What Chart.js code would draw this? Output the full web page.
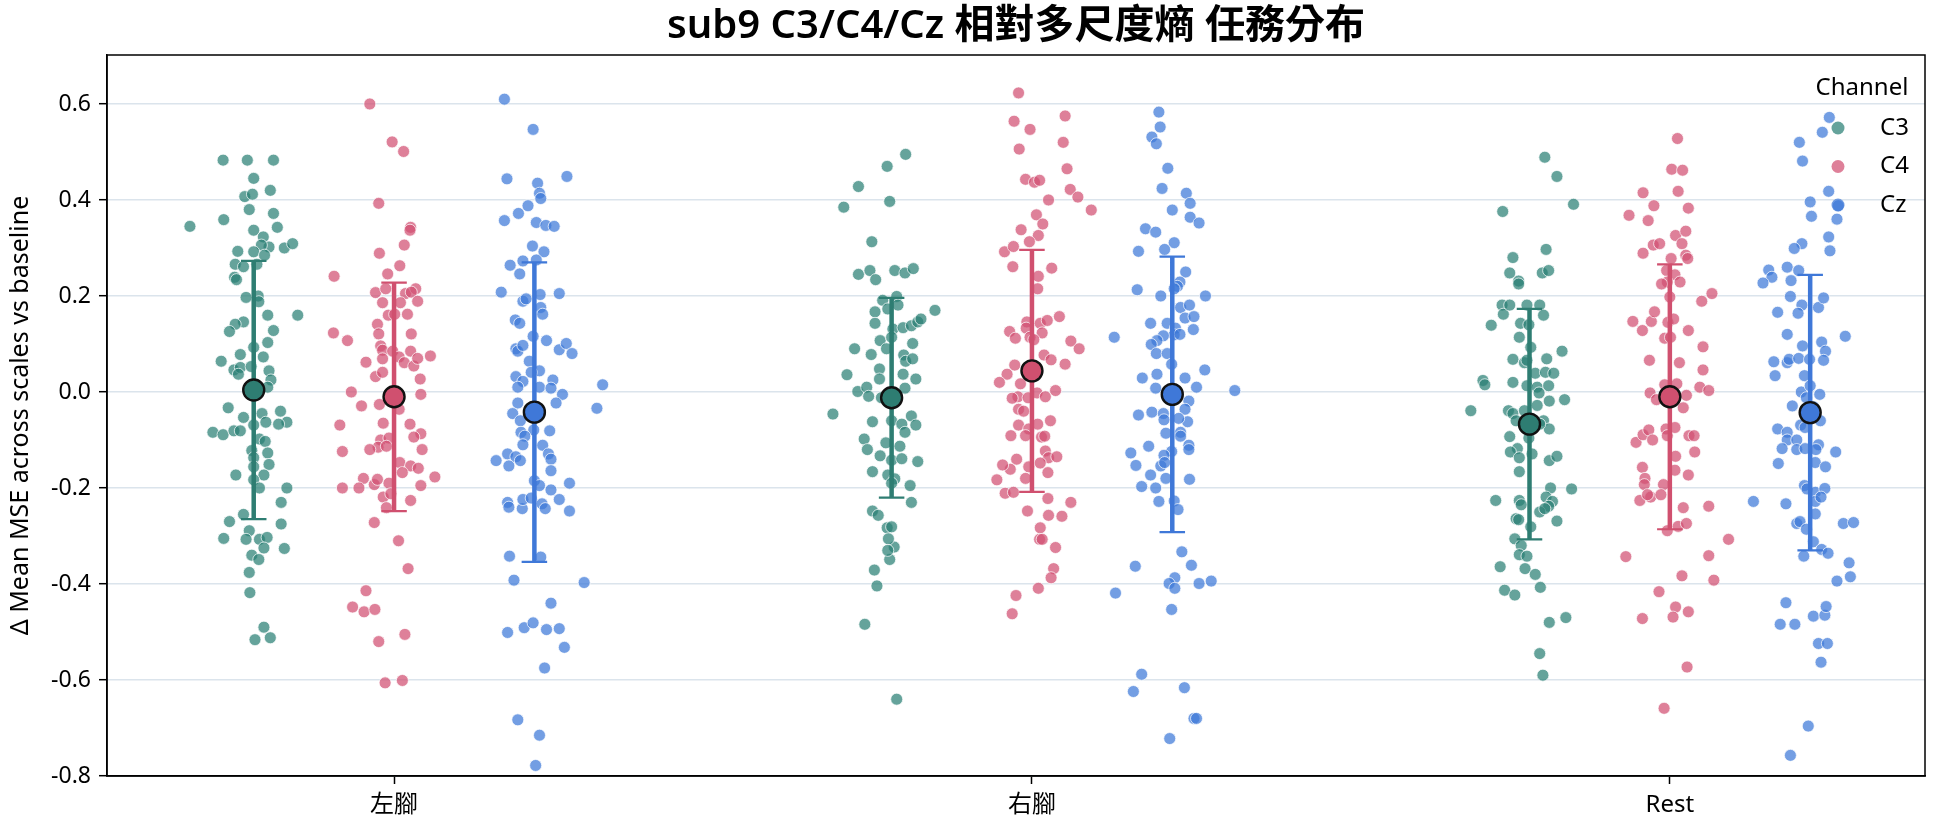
<!DOCTYPE html>
<html>
<head>
<meta charset="utf-8">
<script src="https://cdn.jsdelivr.net/npm/chart.js@4.4.0/dist/chart.umd.min.js"></script>
<style>
  html, body { margin: 0; padding: 0; background: #fff; }
  canvas { display: block; }
</style>
</head>
<body>
<canvas id="mse-chart" width="1944" height="827"></canvas>
<script>
const tasks = ["左腳", "右腳", "Rest"];
const channels = ["C3", "C4", "Cz"];
const yTicks = [-0.8, -0.6, -0.4, -0.2, 0.0, 0.2, 0.4, 0.6];

// per-trial values; *Jit = horizontal strip jitter (category units)
const c3Left = [0.483,0.483,0.483,0.445,0.407,0.412,0.420,0.380,0.359,0.345,0.372,0.343,0.337,0.323,0.302,0.306,0.300,0.309,0.293,0.292,0.285,0.266,0.261,0.266,0.239,0.234,0.197,0.200,0.188,0.160,0.160,0.146,0.141,0.126,0.128,0.103,0.093,0.078,0.073,0.064,0.046,0.051,0.037,0.053,0.044,0.025,0.010,-0.033,-0.040,-0.063,-0.067,-0.053,-0.045,-0.063,-0.084,-0.089,-0.081,-0.081,-0.069,-0.098,-0.103,-0.122,-0.137,-0.127,-0.151,-0.156,-0.173,-0.173,-0.183,-0.200,-0.200,-0.230,-0.255,-0.270,-0.275,-0.289,-0.305,-0.307,-0.307,-0.303,-0.325,-0.340,-0.349,-0.326,-0.376,-0.418,-0.490,-0.516,-0.512];
const c3LeftJit = [-0.048,-0.010,0.031,0.000,-0.014,-0.002,0.026,-0.007,-0.047,-0.100,0.031,0.037,0.000,0.015,0.024,0.012,0.048,0.061,-0.025,0.000,0.017,-0.029,-0.016,0.005,-0.030,-0.027,-0.012,0.007,0.008,0.022,0.069,-0.016,-0.029,-0.038,0.031,0.022,0.000,-0.021,0.015,-0.051,-0.031,-0.021,-0.024,-0.004,0.024,0.027,0.022,-0.040,0.042,0.052,0.039,-0.016,0.013,0.019,-0.064,-0.048,-0.031,-0.021,0.000,0.009,0.018,-0.003,0.000,0.022,0.024,0.000,-0.028,0.016,0.000,0.009,0.052,0.043,-0.016,-0.038,0.043,-0.007,-0.047,-0.012,0.009,0.021,0.016,-0.003,0.008,0.048,-0.007,-0.006,0.016,0.002,0.026];
const c4Left = [0.600,0.521,0.501,0.393,0.343,0.337,0.306,0.289,0.263,0.246,0.241,0.207,0.215,0.205,0.215,0.208,0.189,0.186,0.186,0.160,0.162,0.162,0.123,0.107,0.141,0.121,0.121,0.096,0.087,0.085,0.085,0.062,0.069,0.073,0.061,0.054,0.070,0.075,0.032,0.041,0.027,0.000,-0.005,-0.026,-0.029,-0.036,-0.069,-0.065,-0.067,-0.087,-0.094,-0.100,-0.096,-0.115,-0.113,-0.124,-0.120,-0.120,-0.147,-0.154,-0.168,-0.159,-0.177,-0.180,-0.200,-0.200,-0.193,-0.182,-0.190,-0.219,-0.212,-0.241,-0.195,-0.226,-0.272,-0.310,-0.368,-0.414,-0.448,-0.458,-0.453,-0.505,-0.520,-0.606,-0.601];
const c4LeftJit = [-0.038,-0.003,0.015,-0.024,0.026,0.025,0.016,-0.023,0.009,-0.010,-0.094,-0.029,-0.013,0.018,0.034,0.027,0.037,-0.018,0.010,-0.009,0.001,0.021,-0.095,-0.073,-0.026,-0.024,0.027,-0.021,-0.018,-0.002,0.026,-0.044,-0.018,0.008,0.016,0.031,0.037,0.057,-0.029,-0.018,0.041,-0.067,0.042,-0.023,-0.051,0.008,-0.085,-0.017,0.025,0.042,0.031,-0.021,-0.008,-0.025,-0.012,-0.081,-0.038,0.044,0.009,0.026,0.013,0.038,0.064,-0.048,-0.055,-0.081,-0.031,-0.026,-0.008,-0.017,-0.005,-0.012,0.042,0.026,-0.031,0.007,0.022,-0.044,-0.065,-0.047,-0.030,0.017,-0.024,-0.014,0.013];
const czLeft = [0.610,0.547,0.444,0.435,0.449,0.414,0.403,0.388,0.372,0.357,0.353,0.347,0.345,0.304,0.292,0.264,0.273,0.275,0.246,0.208,0.205,0.189,0.194,0.203,0.176,0.162,0.150,0.143,0.116,0.107,0.090,0.085,0.097,0.088,0.101,0.080,0.064,0.044,0.041,0.032,0.022,0.010,0.025,0.010,0.008,-0.005,-0.023,0.015,-0.034,-0.023,-0.045,-0.060,-0.079,-0.084,-0.092,-0.081,-0.110,-0.111,-0.129,-0.135,-0.143,-0.143,-0.154,-0.129,-0.140,-0.164,-0.185,-0.195,-0.204,-0.190,-0.230,-0.240,-0.243,-0.224,-0.221,-0.233,-0.243,-0.224,-0.248,-0.342,-0.344,-0.392,-0.397,-0.440,-0.501,-0.491,-0.481,-0.495,-0.493,-0.532,-0.575,-0.683,-0.715,-0.778];
const czLeftJit = [-0.047,-0.002,-0.043,0.005,0.051,0.008,0.010,-0.010,-0.025,-0.047,0.003,0.018,0.031,-0.003,0.015,-0.038,-0.018,0.003,-0.023,-0.052,0.039,-0.018,-0.013,0.009,0.010,0.013,-0.030,-0.023,-0.002,0.019,-0.029,-0.026,-0.018,0.039,0.050,0.059,-0.008,0.008,-0.005,-0.029,-0.018,-0.026,0.029,0.008,0.026,0.044,0.034,0.107,0.098,-0.026,-0.034,-0.022,-0.001,-0.021,-0.015,0.024,-0.018,0.013,-0.042,-0.029,-0.022,-0.060,-0.040,0.022,0.026,0.026,0.000,0.008,0.026,0.055,-0.042,-0.040,-0.019,-0.018,-0.005,0.012,0.017,0.039,0.055,-0.039,0.010,-0.032,0.078,0.026,-0.042,-0.016,-0.002,0.019,0.039,0.047,0.016,-0.026,0.008,0.002];

const c3Right = [0.495,0.470,0.428,0.385,0.397,0.313,0.245,0.253,0.234,0.253,0.248,0.257,0.199,0.191,0.173,0.181,0.167,0.143,0.131,0.134,0.138,0.146,0.152,0.170,0.107,0.090,0.114,0.101,0.090,0.078,0.077,0.064,0.069,0.048,0.027,0.036,0.037,0.027,0.001,0.010,-0.009,-0.012,0.008,-0.046,-0.062,-0.060,-0.067,-0.084,-0.050,-0.069,-0.098,-0.120,-0.106,-0.113,-0.133,-0.142,-0.139,-0.145,-0.166,-0.173,-0.181,-0.190,-0.195,-0.230,-0.248,-0.257,-0.283,-0.281,-0.323,-0.349,-0.306,-0.330,-0.371,-0.404,-0.484,-0.640];
const c3RightJit = [0.022,-0.007,-0.052,-0.075,-0.003,-0.031,-0.052,-0.034,-0.025,0.005,0.021,0.034,0.008,-0.014,-0.006,0.010,-0.026,-0.026,0.002,0.018,0.031,0.041,0.046,0.068,-0.018,-0.008,0.000,0.033,-0.058,-0.032,0.019,0.022,0.033,-0.019,-0.019,-0.070,0.018,0.038,-0.053,-0.039,-0.036,-0.016,0.021,-0.092,-0.030,0.000,0.016,0.021,0.031,0.038,-0.043,-0.038,-0.009,0.013,-0.018,0.000,0.016,0.041,-0.030,-0.006,0.005,0.000,0.029,0.031,-0.030,-0.021,-0.007,0.000,0.004,-0.003,-0.005,-0.006,-0.027,-0.023,-0.042,0.008];
const c4Right = [0.623,0.564,0.575,0.547,0.520,0.506,0.465,0.443,0.437,0.441,0.422,0.406,0.379,0.400,0.369,0.350,0.338,0.326,0.313,0.292,0.303,0.261,0.258,0.241,0.215,0.157,0.146,0.133,0.114,0.143,0.149,0.123,0.109,0.126,0.112,0.106,0.090,0.077,0.067,0.058,0.056,0.037,0.020,0.017,-0.010,-0.012,-0.002,-0.010,0.003,-0.013,-0.036,-0.040,-0.060,-0.069,-0.077,-0.067,-0.091,-0.091,-0.094,-0.092,-0.123,-0.137,-0.148,-0.135,-0.140,-0.161,-0.152,-0.156,-0.168,-0.183,-0.180,-0.211,-0.209,-0.222,-0.230,-0.248,-0.257,-0.259,-0.283,-0.307,-0.307,-0.324,-0.368,-0.387,-0.409,-0.424,-0.462];
const c4RightJit = [-0.021,-0.028,0.052,-0.003,0.049,-0.020,0.055,-0.010,0.004,0.012,0.060,0.072,0.093,0.026,0.007,0.017,-0.017,0.010,-0.004,-0.043,-0.029,-0.030,0.031,0.010,0.009,0.043,-0.008,-0.009,-0.003,0.013,0.024,0.016,0.003,-0.035,-0.026,0.061,0.074,0.019,0.030,0.052,-0.027,-0.039,-0.051,-0.018,-0.022,-0.006,0.008,0.021,0.037,-0.031,-0.021,-0.013,0.029,-0.021,-0.005,0.009,-0.033,-0.010,0.015,0.020,0.021,0.026,0.013,0.039,-0.024,-0.034,-0.046,-0.005,0.025,-0.055,-0.010,-0.042,-0.029,0.025,0.061,-0.007,0.026,0.047,0.013,0.012,0.016,0.037,0.034,0.030,0.010,-0.025,-0.031];
const czRight = [0.583,0.552,0.531,0.517,0.466,0.424,0.414,0.393,0.379,0.364,0.352,0.340,0.333,0.311,0.297,0.293,0.250,0.229,0.220,0.213,0.200,0.215,0.200,0.176,0.181,0.154,0.157,0.130,0.143,0.143,0.133,0.119,0.120,0.117,0.107,0.099,0.080,0.080,0.114,0.058,0.046,0.029,0.037,0.029,0.010,0.008,0.003,-0.019,-0.036,-0.062,-0.048,-0.042,-0.045,-0.058,-0.055,-0.086,-0.084,-0.092,-0.113,-0.111,-0.120,-0.127,-0.124,-0.132,-0.153,-0.154,-0.147,-0.173,-0.197,-0.200,-0.180,-0.182,-0.228,-0.227,-0.245,-0.333,-0.363,-0.361,-0.387,-0.399,-0.409,-0.399,-0.394,-0.419,-0.453,-0.588,-0.624,-0.616,-0.680,-0.680,-0.722];
const czRightJit = [-0.021,-0.019,-0.032,-0.025,-0.007,-0.016,0.022,0.028,0.000,0.028,0.042,-0.042,-0.026,0.003,-0.012,-0.053,0.021,0.012,0.008,-0.055,-0.018,0.003,0.052,0.013,0.027,0.020,0.034,0.033,-0.034,-0.008,0.005,0.003,0.012,-0.014,-0.024,-0.033,-0.025,-0.008,-0.091,-0.001,0.051,-0.047,-0.024,0.020,0.038,-0.026,0.098,0.026,0.020,0.024,-0.053,-0.032,-0.014,-0.013,0.010,-0.010,0.013,0.013,-0.037,0.026,0.026,-0.065,-0.001,-0.013,-0.057,-0.018,-0.012,-0.034,-0.048,-0.026,-0.010,0.027,-0.021,0.003,0.009,0.015,-0.058,0.030,0.004,-0.005,0.004,0.042,0.061,-0.089,-0.001,-0.048,-0.061,0.019,0.034,0.038,-0.004];

const c3Rest = [0.489,0.449,0.391,0.376,0.297,0.280,0.248,0.231,0.225,0.248,0.253,0.181,0.162,0.181,0.181,0.181,0.160,0.139,0.143,0.140,0.114,0.093,0.085,0.068,0.061,0.066,0.069,0.039,0.041,0.039,0.024,0.015,0.020,0.013,0.010,0.013,-0.002,-0.019,-0.016,-0.028,-0.039,-0.039,-0.045,-0.060,-0.039,-0.060,-0.077,-0.067,-0.093,-0.096,-0.118,-0.125,-0.137,-0.129,-0.143,-0.134,-0.166,-0.200,-0.202,-0.219,-0.228,-0.238,-0.250,-0.243,-0.226,-0.226,-0.235,-0.264,-0.266,-0.269,-0.281,-0.306,-0.320,-0.339,-0.342,-0.364,-0.368,-0.380,-0.407,-0.413,-0.423,-0.480,-0.470,-0.545,-0.590];
const c3RestJit = [0.024,0.043,0.069,-0.042,0.026,-0.026,-0.031,-0.017,-0.017,0.020,0.030,-0.043,-0.041,-0.031,-0.004,0.016,0.022,-0.060,-0.014,-0.001,-0.016,0.002,0.051,-0.026,-0.008,-0.004,0.027,0.009,0.025,0.038,-0.073,-0.070,-0.026,-0.004,0.012,0.030,0.015,0.031,0.055,0.012,-0.092,-0.033,-0.026,-0.021,-0.008,0.022,0.031,0.016,-0.031,-0.001,-0.019,-0.030,-0.016,0.004,0.031,0.043,-0.016,0.033,0.066,0.026,0.036,0.030,0.016,0.024,-0.053,-0.016,-0.013,-0.021,-0.017,0.043,0.002,-0.023,-0.013,-0.016,-0.004,-0.046,-0.007,0.009,0.017,-0.039,-0.023,0.031,0.057,0.016,0.021];
const c4Rest = [0.528,0.464,0.462,0.415,0.418,0.388,0.383,0.368,0.357,0.326,0.335,0.306,0.309,0.309,0.289,0.278,0.285,0.278,0.253,0.244,0.229,0.229,0.225,0.198,0.189,0.205,0.147,0.147,0.167,0.145,0.152,0.128,0.128,0.112,0.114,0.094,0.066,0.061,0.046,0.017,0.010,0.003,-0.002,-0.016,0.015,-0.007,-0.033,-0.105,-0.089,-0.079,-0.100,-0.077,-0.091,-0.074,-0.091,-0.091,-0.125,-0.134,-0.163,-0.157,-0.173,-0.180,-0.193,-0.193,-0.226,-0.219,-0.214,-0.214,-0.241,-0.238,-0.289,-0.280,-0.274,-0.307,-0.343,-0.341,-0.383,-0.392,-0.416,-0.448,-0.469,-0.458,-0.472,-0.573,-0.659];
const c4RestJit = [0.012,0.003,0.020,-0.042,0.013,-0.025,0.029,-0.064,-0.034,0.009,0.025,-0.026,-0.016,0.019,-0.042,0.002,0.025,0.028,-0.005,0.008,-0.004,0.016,-0.013,0.000,0.050,0.066,-0.058,-0.029,-0.024,-0.003,0.006,-0.043,0.029,-0.008,0.001,0.052,-0.032,0.015,0.052,0.011,0.047,0.061,-0.031,-0.021,-0.008,0.026,0.021,-0.053,-0.042,-0.033,-0.027,-0.006,-0.004,0.008,0.030,0.038,0.039,0.009,0.008,-0.043,0.029,-0.039,-0.040,-0.010,-0.047,-0.030,-0.035,-0.014,0.021,0.061,-0.004,0.013,0.026,0.092,-0.069,0.061,0.019,0.069,-0.017,0.009,0.005,0.029,-0.043,0.027,-0.009];
const czRest = [0.572,0.541,0.520,0.481,0.418,0.396,0.366,0.388,0.360,0.323,0.294,0.309,0.299,0.254,0.239,0.227,0.260,0.253,0.232,0.199,0.181,0.164,0.176,0.196,0.166,0.120,0.116,0.096,0.104,0.085,0.063,0.034,0.061,0.068,0.070,0.068,0.066,0.034,0.000,0.013,-0.012,-0.005,-0.031,-0.029,-0.069,-0.074,-0.060,-0.077,-0.084,-0.100,-0.100,-0.118,-0.120,-0.118,-0.110,-0.120,-0.125,-0.149,-0.147,-0.156,-0.195,-0.202,-0.209,-0.201,-0.228,-0.219,-0.228,-0.233,-0.254,-0.274,-0.270,-0.286,-0.274,-0.272,-0.312,-0.328,-0.336,-0.342,-0.356,-0.385,-0.394,-0.439,-0.484,-0.484,-0.467,-0.465,-0.447,-0.524,-0.524,-0.563,-0.696,-0.757];
const czRestJit = [0.030,0.019,-0.017,-0.012,0.029,0.000,0.002,0.044,0.042,0.029,0.031,-0.013,-0.025,-0.065,-0.060,-0.074,-0.036,-0.018,-0.030,-0.031,-0.013,-0.019,0.013,0.021,-0.051,-0.036,0.055,-0.012,0.018,0.024,-0.057,-0.055,-0.036,-0.033,-0.018,-0.001,0.021,-0.009,-0.014,0.000,-0.006,0.015,0.005,-0.028,-0.015,-0.008,0.016,-0.051,-0.036,-0.036,-0.021,-0.044,-0.021,-0.008,0.013,0.009,0.040,-0.050,0.008,0.024,-0.009,-0.005,0.008,0.023,0.008,0.017,-0.089,-0.038,0.008,-0.021,-0.016,-0.006,0.052,0.068,0.005,0.018,0.028,-0.010,0.061,0.063,0.042,-0.038,-0.047,-0.024,0.005,0.023,0.025,0.013,0.027,0.017,-0.003,-0.031];

// mean and SD per task (左腳, 右腳, Rest)
const c3Mean = [0.004, -0.012, -0.067];
const c3Sd = [0.269, 0.208, 0.240];
const c4Mean = [-0.010, 0.044, -0.010];
const c4Sd = [0.238, 0.252, 0.276];
const czMean = [-0.042, -0.005, -0.043];
const czSd = [0.312, 0.287, 0.287];

const FONT = '"Noto Sans", "Noto Sans CJK TC", sans-serif';
const dodge = [-0.22, 0, 0.22];
const capHalf = 0.02;

const series = [
    { groups: [[c3Left, c3LeftJit], [c3Right, c3RightJit], [c3Rest, c3RestJit]], mean: c3Mean, sd: c3Sd,
      point: "rgba(42, 127, 116, 0.72)", solid: "#2e7d72" },
    { groups: [[c4Left, c4LeftJit], [c4Right, c4RightJit], [c4Rest, c4RestJit]], mean: c4Mean, sd: c4Sd,
      point: "rgba(209, 79, 114, 0.72)", solid: "#d0506f" },
    { groups: [[czLeft, czLeftJit], [czRight, czRightJit], [czRest, czRestJit]], mean: czMean, sd: czSd,
      point: "rgba(61, 120, 216, 0.72)", solid: "#3f78d8" },
];

function stripPoints(groups, off) {
    const pts = [];
    groups.forEach(([vals, jit], t) => {
        vals.forEach((v, i) => pts.push({ x: t + off + jit[i], y: v }));
    });
    return pts;
}

function barPoints(mean, sd, off) {
    const pts = [];
    mean.forEach((m, t) => {
        const x = t + off;
        pts.push({ x, y: m - sd[t] }, { x, y: m + sd[t] }, { x, y: null });
    });
    return pts;
}

function capPoints(mean, sd, off) {
    const pts = [];
    mean.forEach((m, t) => {
        const x = t + off;
        [m - sd[t], m + sd[t]].forEach((y) => {
            pts.push({ x: x - capHalf, y }, { x: x + capHalf, y }, { x: x, y: null });
        });
    });
    return pts;
}

const datasets = [];
series.forEach((s, c) => {
    datasets.push({
        label: channels[c],
        data: stripPoints(s.groups, dodge[c]),
        backgroundColor: s.point,
        borderColor: "rgba(255,255,255,0.9)",
        borderWidth: 0.8,
        pointRadius: 6,
        order: 4,
    });
    datasets.push({
        label: channels[c] + " sd",
        data: barPoints(s.mean, s.sd, dodge[c]),
        showLine: true,
        spanGaps: false,
        borderColor: s.solid,
        borderWidth: 4.5,
        pointRadius: 0,
        order: 3,
    });
    datasets.push({
        label: channels[c] + " cap",
        data: capPoints(s.mean, s.sd, dodge[c]),
        showLine: true,
        spanGaps: false,
        borderColor: s.solid,
        borderWidth: 2.2,
        pointRadius: 0,
        order: 2,
    });
    datasets.push({
        label: channels[c] + " mean",
        data: s.mean.map((m, t) => ({ x: t + dodge[c], y: m })),
        backgroundColor: s.solid,
        borderColor: "#111",
        borderWidth: 2.4,
        pointRadius: 10.5,
        order: 1,
    });
});

const frameAndText = {
    id: "frameAndText",
    afterDraw(chart) {
        const { ctx, chartArea: a } = chart;
        ctx.save();
        ctx.strokeStyle = "#000";
        ctx.lineWidth = 1.5;
        ctx.strokeRect(a.left, a.top, a.right - a.left, a.bottom - a.top);

        ctx.fillStyle = "#000";
        ctx.textAlign = "center";
        ctx.textBaseline = "middle";
        ctx.font = `600 40px ${FONT}`;
        ctx.fillText("sub9 C3/C4/Cz 相對多尺度熵 任務分布", (a.left + a.right) / 2, a.top - 28);

        // legend
        ctx.font = `24px ${FONT}`;
        ctx.fillText("Channel", a.right - 63, a.top + 33);
        ctx.textAlign = "left";
        series.forEach((s, c) => {
            const y = a.top + 73 + c * 38.5;
            ctx.beginPath();
            ctx.arc(a.right - 87, y, 6.5, 0, Math.PI * 2);
            ctx.fillStyle = s.point;
            ctx.fill();
            ctx.fillStyle = "#000";
            ctx.fillText(channels[c], a.right - 45, y);
        });
        ctx.restore();
    },
};

new Chart(document.getElementById("mse-chart"), {
    type: "scatter",
    data: { datasets },
    options: {
        responsive: false,
        animation: false,
        events: [],
        layout: { padding: { top: 55, right: 19, left: 0, bottom: 0 } },
        plugins: { legend: { display: false }, tooltip: { enabled: false } },
        scales: {
            x: {
                type: "linear",
                min: -0.45,
                max: 2.4,
                afterBuildTicks: (scale) => { scale.ticks = tasks.map((_, i) => ({ value: i })); },
                afterFit: (scale) => { scale.height = 51; },
                ticks: {
                    callback: (v) => tasks[v],
                    color: "#000",
                    padding: 7,
                    font: { family: FONT, size: 24 },
                },
                grid: { drawOnChartArea: false, tickLength: 8, tickColor: "#000", tickWidth: 1.5 },
                border: { color: "#000", width: 1.5 },
            },
            y: {
                min: -0.8,
                max: 0.702,
                afterBuildTicks: (scale) => { scale.ticks = yTicks.map((v) => ({ value: v })); },
                afterFit: (scale) => { scale.width = 107; },
                ticks: {
                    callback: (v) => v.toFixed(1),
                    color: "#000",
                    padding: 8,
                    font: { family: FONT, size: 23 },
                },
                grid: { color: "#dbe4ec", lineWidth: 1.4, tickLength: 8, tickColor: "#000", tickWidth: 1.5 },
                border: { color: "#000", width: 1.5 },
                title: {
                    display: true,
                    text: "Δ Mean MSE across scales vs baseline",
                    color: "#000",
                    padding: { top: 6, bottom: 0 },
                    font: { family: FONT, size: 25 },
                },
            },
        },
    },
    plugins: [frameAndText],
});
</script>
</body>
</html>
